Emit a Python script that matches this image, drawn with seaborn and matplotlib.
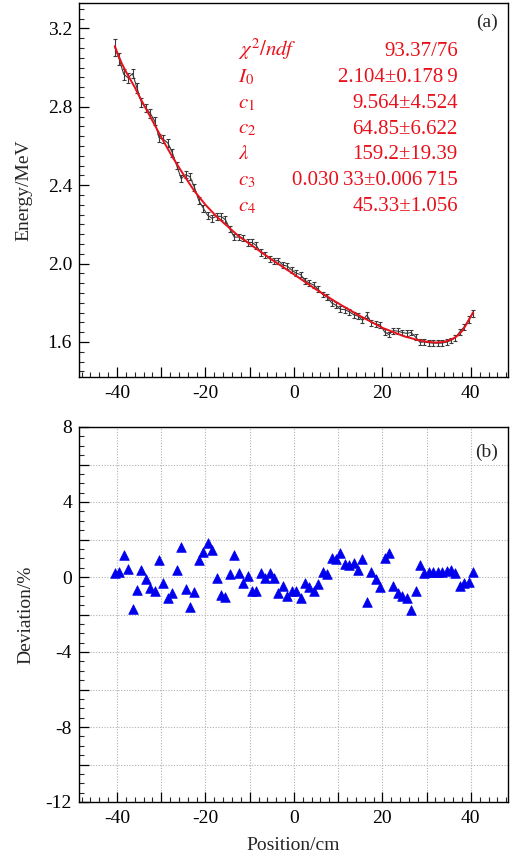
import numpy as np
import pandas as pd
import matplotlib
matplotlib.use("Agg")
import matplotlib.pyplot as plt
from matplotlib.ticker import MultipleLocator, FuncFormatter
import seaborn as sns

# ---------------- data ----------------
position = [-40.5, -39.5, -38.5, -37.5, -36.5, -35.5, -34.5, -33.5, -32.5, -31.5,
            -30.5, -29.5, -28.5, -27.5, -26.5, -25.5, -24.5, -23.5, -22.5, -21.5,
            -20.5, -19.5, -18.5, -17.5, -16.5, -15.5, -14.5, -13.5, -12.5, -11.5,
            -10.5, -9.5, -8.5, -7.5, -6.5, -5.5, -4.5, -3.5, -2.5, -1.5,
            -0.5, 0.5, 1.5, 2.5, 3.5, 4.5, 5.5, 6.5, 7.5, 8.5,
            9.5, 10.5, 11.5, 12.5, 13.5, 14.5, 15.5, 16.5, 17.5, 18.5,
            19.5, 20.5, 21.5, 22.5, 23.5, 24.5, 25.5, 26.5, 27.5, 28.5,
            29.5, 30.5, 31.5, 32.5, 33.5, 34.5, 35.5, 36.5, 37.5, 38.5,
            39.5, 40.5]

energy = [3.103, 3.043, 2.967, 2.948, 2.970, 2.897, 2.824, 2.795, 2.767, 2.728,
          2.642, 2.634, 2.615, 2.566, 2.500, 2.433, 2.454, 2.443, 2.389, 2.321,
          2.283, 2.246, 2.231, 2.241, 2.241, 2.224, 2.177, 2.135, 2.135, 2.130,
          2.107, 2.108, 2.092, 2.056, 2.045, 2.024, 2.014, 2.015, 1.992, 1.987,
          1.967, 1.951, 1.944, 1.913, 1.901, 1.890, 1.868, 1.842, 1.829, 1.800,
          1.787, 1.767, 1.765, 1.754, 1.739, 1.732, 1.710, 1.737, 1.698, 1.692,
          1.687, 1.651, 1.638, 1.658, 1.655, 1.648, 1.644, 1.648, 1.625, 1.598,
          1.600, 1.596, 1.594, 1.594, 1.594, 1.599, 1.607, 1.622, 1.652, 1.677,
          1.714, 1.747]

energy_err = [0.045, 0.030, 0.028, 0.026, 0.025, 0.024, 0.023, 0.022, 0.022, 0.021,
              0.021, 0.020, 0.020, 0.020, 0.019, 0.019, 0.019, 0.019, 0.018, 0.018,
              0.018, 0.018, 0.018, 0.017, 0.017, 0.017, 0.017, 0.017, 0.017, 0.016,
              0.016, 0.016, 0.016, 0.016, 0.016, 0.016, 0.016, 0.015, 0.015, 0.015,
              0.015, 0.015, 0.015, 0.015, 0.015, 0.015, 0.015, 0.015, 0.015, 0.015,
              0.015, 0.015, 0.015, 0.015, 0.015, 0.015, 0.015, 0.015, 0.015, 0.015,
              0.015, 0.015, 0.015, 0.015, 0.015, 0.015, 0.015, 0.015, 0.015, 0.015,
              0.015, 0.015, 0.015, 0.015, 0.015, 0.015, 0.015, 0.015, 0.015, 0.016,
              0.017, 0.018]

fit_position = [-40.5, -40, -39, -38, -37, -36, -35, -32.5, -30, -27.5, -25, -22.5,
                -20, -17.5, -15, -12.5, -10, -5, 0, 5, 10, 15, 20, 25, 28, 30, 32,
                34, 36, 37, 38, 39, 40, 40.5]
fit_energy = [3.110, 3.080, 3.025, 2.980, 2.940, 2.900, 2.855, 2.750, 2.645, 2.545,
              2.455, 2.370, 2.300, 2.240, 2.190, 2.140, 2.100, 2.020, 1.945, 1.868,
              1.797, 1.732, 1.672, 1.628, 1.610, 1.601, 1.597, 1.600, 1.617, 1.632,
              1.655, 1.690, 1.730, 1.752]

deviation = [0.23, 0.29, 1.18, 0.41, -1.73, -0.70, 0.37, -0.12, -0.60, -0.75,
             0.90, -0.34, -1.14, -0.84, 0.37, 1.62, -0.66, -1.62, -0.78, 0.90,
             1.35, 1.83, 1.44, -0.04, -0.96, -1.09, 0.14, 1.18, 0.23, -0.30,
             0.07, -0.75, -0.75, 0.20, -0.07, 0.20, -0.07, -0.87, -0.48, -1.00,
             -0.73, -0.73, -1.14, -0.34, -0.52, -0.73, -0.37, 0.29, 0.16, 1.00,
             0.94, 1.27, 0.70, 0.64, 0.73, 0.37, 0.94, -1.32, 0.25, -0.12,
             -0.52, 1.03, 1.27, -0.48, -0.87, -1.00, -1.14, -1.76, -0.73, 0.64,
             0.20, 0.25, 0.25, 0.25, 0.29, 0.32, 0.37, 0.20, -0.48, -0.30,
             -0.25, 0.29]

param_names = [r"$\chi^2/ndf$", r"$I_0$", r"$c_1$", r"$c_2$", r"$\lambda$", r"$c_3$", r"$c_4$"]
param_values = ["93.37/76", "2.104\u00b10.178\u20099", "9.564\u00b14.524", "64.85\u00b16.622",
                "159.2\u00b119.39", "0.030\u200933\u00b10.006\u2009715", "45.33\u00b11.056"]

x_ticks = [-40, -20, 0, 20, 40]

# ---------------- style ----------------
sns.set_theme(style="ticks")
plt.rcParams["font.family"] = ["Liberation Serif", "DejaVu Serif"]
plt.rcParams["mathtext.fontset"] = "stix"
plt.rcParams["axes.linewidth"] = 1.0

df_data = pd.DataFrame({"x": position, "E": energy, "err": energy_err, "dev": deviation})
df_fit = pd.DataFrame({"x": fit_position, "E": fit_energy})

W, H = 512, 867
fig = plt.figure(figsize=(W / 100, H / 100), dpi=100)
ax1 = fig.add_axes([79 / W, 1 - 377 / H, 429 / W, 374 / H])
ax2 = fig.add_axes([79 / W, 1 - 802 / H, 429 / W, 375 / H])

tick_fs = 14
label_fs = 14
red = "#e8101a"

# ---- top panel ----
ax1.errorbar(df_data["x"], df_data["E"], yerr=df_data["err"], fmt="none",
             ecolor="#3a3a3a", elinewidth=0.8, capsize=1.3, capthick=0.8, zorder=2)
sns.lineplot(data=df_data, x="x", y="E", ax=ax1, color="#3a3a3a", linewidth=0.8,
             sort=False, estimator=None, zorder=2)
sns.lineplot(data=df_fit, x="x", y="E", ax=ax1, color=red, linewidth=1.4,
             sort=False, estimator=None, zorder=3)
ax1.set_xlim(-48.6, 48.4)
ax1.set_ylim(1.421, 3.330)
ax1.set_xlabel("")
ax1.set_ylabel("Energy/MeV", fontsize=label_fs, labelpad=11)
ax1.yaxis.set_major_locator(MultipleLocator(0.4))
ax1.yaxis.set_minor_locator(MultipleLocator(0.05))
ax1.yaxis.set_major_formatter(FuncFormatter(lambda v, p: f"{v:.1f}"))

# ---- bottom panel ----
sns.scatterplot(data=df_data, x="x", y="dev", ax=ax2, marker="^", color="#0000ee",
                edgecolor="#0000ee", s=48, linewidth=0.5, zorder=3)
ax2.set_xlim(-48.6, 48.4)
ax2.set_ylim(-12, 8)
ax2.set_xlabel("Position/cm", fontsize=label_fs, labelpad=7)
ax2.set_ylabel("Deviation/%", fontsize=label_fs, labelpad=8)
ax2.yaxis.set_major_locator(MultipleLocator(2))
ax2.yaxis.set_minor_locator(MultipleLocator(0.5))
ax2.yaxis.set_major_formatter(FuncFormatter(lambda v, p: f"{v:.0f}" if abs(v) % 4 < 1e-6 else ""))
ax2.grid(True, which="major", color="#b0b0b0", linestyle=(0, (1, 1.5)), linewidth=0.8)
ax2.set_axisbelow(True)

for ax in (ax1, ax2):
    ax.xaxis.set_major_locator(MultipleLocator(10))
    ax.xaxis.set_minor_locator(MultipleLocator(2))
    ax.xaxis.set_major_formatter(FuncFormatter(lambda v, p: f"{v:.0f}" if round(v) in x_ticks else ""))
    ax.tick_params(axis="both", which="major", direction="in", length=7, width=0.9,
                   labelsize=tick_fs, pad=5, colors="black", top=False, right=False)
    ax.tick_params(axis="x", which="major", pad=6)
    ax.tick_params(axis="both", which="minor", direction="in", length=3.5, width=0.8,
                   top=False, right=False)
    for s in ax.spines.values():
        s.set_color("black")
        s.set_linewidth(1.0)

# annotations
ax1.text(0.951, 0.947, "(a)", transform=ax1.transAxes, ha="center", va="center", fontsize=14)
ax2.text(0.951, 0.933, "(b)", transform=ax2.transAxes, ha="center", va="center", fontsize=14)

baselines = [56, 82, 108, 133.5, 159, 185, 211]
for name, val, yb in zip(param_names, param_values, baselines):
    fy = 1 - (yb - 3) / 374
    ax1.text(0.371, fy, name, transform=ax1.transAxes, ha="left", va="baseline",
             fontsize=15, color=red)
    ax1.text(0.883, fy, val, transform=ax1.transAxes, ha="right", va="baseline",
             fontsize=15, color=red)

fig.savefig("out.png", dpi=100)
